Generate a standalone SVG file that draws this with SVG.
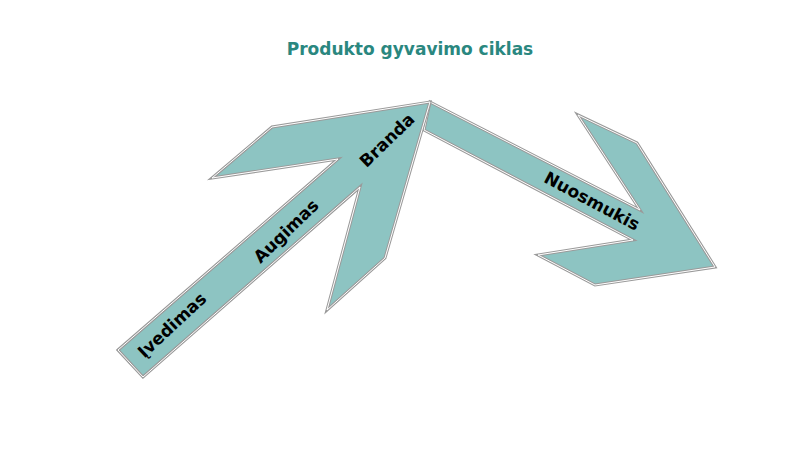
<svg xmlns="http://www.w3.org/2000/svg" width="800" height="471" viewBox="0 0 800 471">
<style>
.arrow{fill:#8DC4C2;stroke:#9a9a9a;stroke-width:3;stroke-linejoin:miter}
.inner{fill:none;stroke:#ffffff;stroke-width:1}
.lbl{font-family:"DejaVu Sans",Verdana,sans-serif;font-weight:bold;font-size:17px;fill:#000;text-anchor:middle;dominant-baseline:central}
.title{font-family:"DejaVu Sans",Verdana,sans-serif;font-weight:bold;font-size:17px;fill:#2A877F;text-anchor:middle}
</style>
<rect width="800" height="471" fill="#ffffff"/>
<text class="title" x="410" y="55">Produkto gyvavimo ciklas</text>
<g id="arrow-down">
<polygon class="arrow" points="430,102 640,210 578,115 637,143 715,267 595,285 538,255 633,240 424,130"/>
<polygon class="inner" points="430,102 640,210 578,115 637,143 715,267 595,285 538,255 633,240 424,130"/>
<text class="lbl" transform="translate(592,201) rotate(28)">Nuosmukis</text>
</g>
<g id="arrow-up">
<polygon class="arrow" points="118,350 338,159 212,178 272,127 430,102 385,258 327,310 360,187 143,377"/>
<polygon class="inner" points="118,350 338,159 212,178 272,127 430,102 385,258 327,310 360,187 143,377"/>
<text class="lbl" transform="translate(172,325) rotate(-43)">Įvedimas</text>
<text class="lbl" transform="translate(286,231) rotate(-44)">Augimas</text>
<text class="lbl" transform="translate(387,140) rotate(-44)">Branda</text>
</g>
</svg>
